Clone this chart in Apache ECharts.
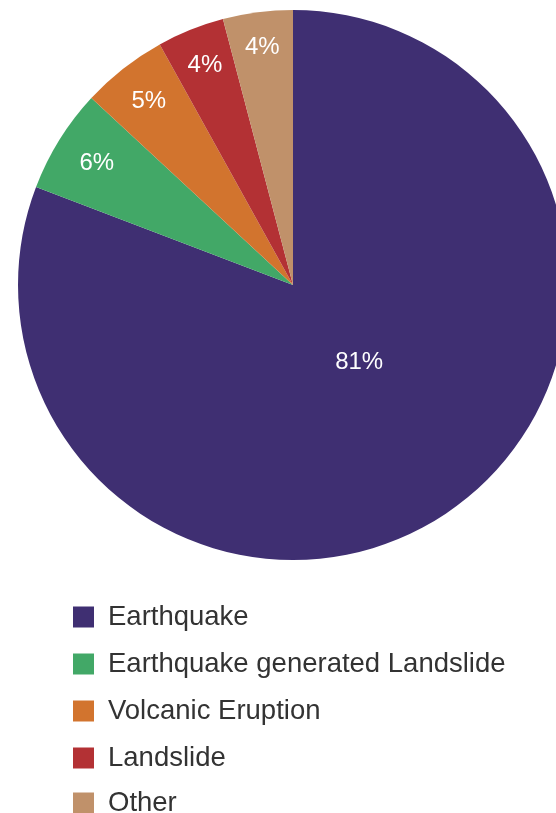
<!DOCTYPE html>
<html>
<head>
<meta charset="utf-8">
<script src="https://cdn.jsdelivr.net/npm/echarts@6/dist/echarts.min.js"></script>
<style>
  html, body { margin: 0; padding: 0; background: #fff; }
  #chart { width: 556px; height: 813px; }
</style>
</head>
<body>
<div id="chart"></div>
<script>
// data
const categories = ["Earthquake", "Earthquake generated Landslide", "Volcanic Eruption", "Landslide", "Other"];
const values = [80.8, 6.1, 5.05, 3.95, 4.1];
const colors = ["#3f2f72", "#42a867", "#d2742e", "#b33134", "#c0916a"];

// where each label sits: fraction of radius, and angle nudge in degrees
const labelRadius = [0.37, 0.84, 0.85, 0.86, 0.87];
const labelTurn = [-6, 0, 0, 0, 0];

const cx = 293, cy = 285, R = 275;
const total = values.reduce((a, b) => a + b, 0);

// the last legend row runs off the bottom edge, so it gets its own legend box
// (otherwise echarts wraps it into a second column)
const legendBase = {
  orient: "vertical",
  left: 73,
  padding: 0,
  icon: "rect",
  itemWidth: 21,
  itemHeight: 21,
  itemGap: 19,
  textStyle: {
    fontFamily: "Liberation Sans, Arial, sans-serif",
    fontSize: 27.5,
    color: "#333",
    padding: [0, 0, 0, 9],
  },
};

const chart = echarts.init(document.getElementById("chart"));
chart.setOption({
  animation: false,
  color: colors,
  legend: [
    Object.assign({}, legendBase, { top: 603, data: categories.slice(0, 4) }),
    Object.assign({}, legendBase, { top: 789, data: categories.slice(4) }),
  ],
  series: [
    {
      type: "pie",
      center: [cx, cy],
      radius: [0, R],
      startAngle: 90,
      clockwise: true,
      percentPrecision: 0,
      label: {
        show: true,
        position: "inside",
        formatter: "{d}%",
        color: "#fff",
        fontSize: 24,
        fontFamily: "Liberation Sans, Arial, sans-serif",
      },
      labelLine: { show: false },
      emphasis: { disabled: true },
      labelLayout: function (params) {
        const i = params.dataIndex;
        let before = 0;
        for (let k = 0; k < i; k++) before += values[k];
        const mid = ((before + values[i] / 2) / total) * Math.PI * 2 + labelTurn[i] * Math.PI / 180;
        const r = R * labelRadius[i];
        return {
          x: cx + r * Math.sin(mid),
          y: cy - r * Math.cos(mid),
          align: "center",
          verticalAlign: "middle",
        };
      },
      data: categories.map((name, i) => ({ name: name, value: values[i] })),
    },
  ],
});
</script>
</body>
</html>
